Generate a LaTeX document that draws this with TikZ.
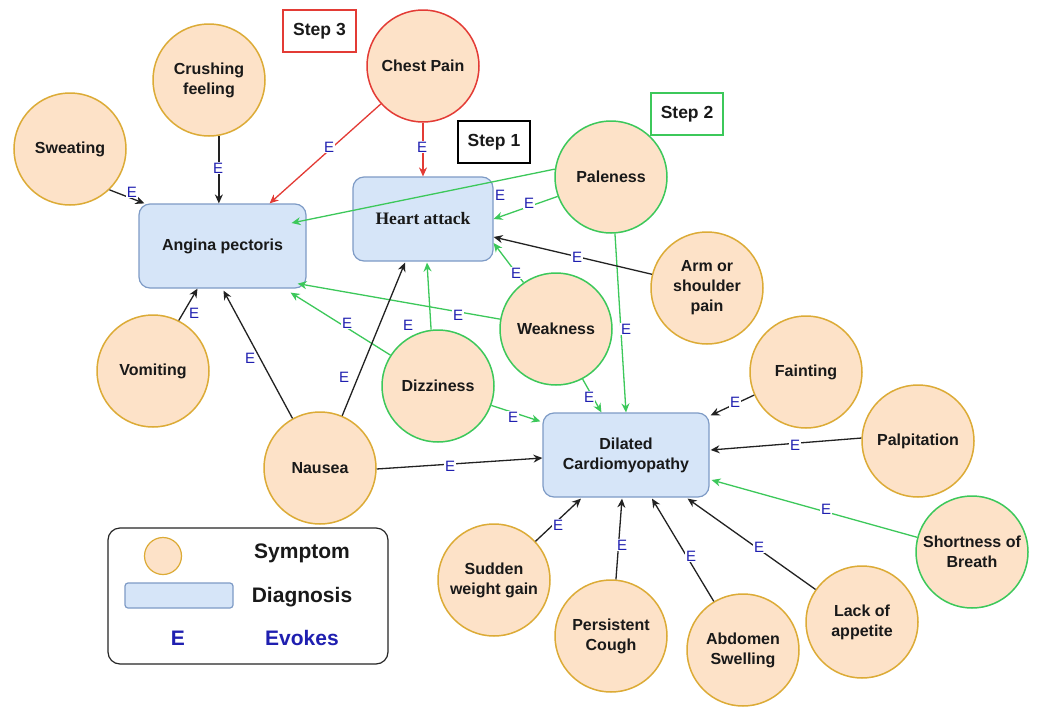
\documentclass[tikz,border=0pt]{standalone}
\usepackage{fontspec}
\setmainfont{Liberation Sans}
\newfontfamily\serifface{Liberation Serif}
\usetikzlibrary{arrows.meta,calc}

\definecolor{symfill}{HTML}{FDE2C8}
\definecolor{symdraw}{HTML}{DCAB36}
\definecolor{dxfill}{HTML}{D6E5F8}
\definecolor{dxdraw}{HTML}{7E9BC6}
\definecolor{evgreen}{HTML}{3CC85A}
\definecolor{evred}{HTML}{E33B35}
\definecolor{evblue}{HTML}{1F1FB0}
\definecolor{edgeblack}{HTML}{222222}

\tikzset{
  symptom/.style={circle, draw=symdraw, fill=symfill, line width=1.5pt,
    minimum size=112pt, inner sep=0pt, align=center, text=black!90,
    font=\fontsize{16}{20}\selectfont\bfseries},
  symgreen/.style={symptom, draw=evgreen},
  symred/.style={symptom, draw=evred},
  diagnosis/.style={rectangle, rounded corners=11pt, draw=dxdraw, fill=dxfill,
    line width=1.2pt, align=center, inner sep=0pt, minimum height=84pt,
    text=black!90, font=\fontsize{16}{20}\selectfont\bfseries},
  stepbox/.style={rectangle, line width=1.2pt, inner sep=0pt,
    minimum height=42pt, text=black!90, font=\fontsize{17.5}{20}\selectfont\bfseries},
  ev/.style={-{Stealth[length=9pt,width=8pt]}, line width=1.3pt, draw=edgeblack},
  evg/.style={ev, draw=evgreen},
  evr/.style={ev, draw=evred},
  elabel/.style={fill=white, inner sep=0.6pt, text=evblue,
    font=\fontsize{15}{15}\selectfont},
  legendtext/.style={font=\fontsize{21}{24}\selectfont\bfseries, text=black!90},
}

\begin{document}
\begin{tikzpicture}[x=1pt, y=-1pt]
\fill[white] (0,0) rectangle (1041,707);
\useasboundingbox (0,0) rectangle (1041,707);

% diagnoses
\node[diagnosis, minimum width=167pt] (angina) at (222.5,246) {Angina pectoris};
\node[diagnosis, minimum width=140pt, font=\serifface\fontsize{17.5}{20}\selectfont\bfseries] (heart) at (423,219) {Heart attack};
\node[diagnosis, minimum width=166pt] (dil) at (626,455) {Dilated\\Cardiomyopathy};

% symptoms
\node[symptom] (sweat) at (70,149) {Sweating};
\node[symptom] (crush) at (209,80) {Crushing\\feeling};
\node[symred] (chest) at (423,66) {Chest Pain};
\node[symgreen] (pale) at (611,177) {Paleness};
\node[symptom] (arm) at (707,288) {Arm or\\shoulder\\pain};
\node[symgreen] (weak) at (556,329) {Weakness};
\node[symgreen] (dizz) at (438,386) {Dizziness};
\node[symptom] (vomit) at (153,371) {Vomiting};
\node[symptom] (naus) at (320,468) {Nausea};
\node[symptom] (faint) at (806,372) {Fainting};
\node[symptom] (palp) at (918,441) {Palpitation};
\node[symgreen] (short) at (972,552) {Shortness of\\Breath};
\node[symptom] (lack) at (862,622) {Lack of\\appetite};
\node[symptom] (sudden) at (494,580) {Sudden\\weight gain};
\node[symptom] (pers) at (611,636) {Persistent\\Cough};
\node[symptom] (abd) at (743,650) {Abdomen\\Swelling};

% step markers
\node[stepbox, draw=evred, minimum width=73pt] (step3) at (319.5,31) {Step 3};
\node[stepbox, draw=black, minimum width=72pt] (step1) at (494,142) {Step 1};
\node[stepbox, draw=evgreen, minimum width=72pt] (step2) at (687,114) {Step 2};

% evokes relations
\draw[ev] (sweat.-46) -- ($(angina.north west)+(6,0)$);
\draw[ev] (crush.-80) -- (crush.-80 |- angina.north);
\draw[evr] (chest.-138) -- ($(angina.north east)+(-37,0)$);
\draw[evr] (chest.south) -- (heart.north);
\draw[evg] (pale.172) -- ($(angina.east)+(-15,-23)$);
\draw[evg] (pale.-160) -- (heart.east);
\draw[evg] (pale.-86) -- (dil.north);
\draw[ev] (arm.166) -- ($(heart.east)+(0,18)$);
\draw[evg] (weak.125) -- ($(heart.east)+(0,24)$);
\draw[evg] (weak.170) -- ($(angina.south east)+(-9,-5)$);
\draw[evg] (dizz.147) -- ($(angina.south east)+(-16,4)$);
\draw[evg] (dizz.97) -- ($(heart.south)+(4,1)$);
\draw[ev] (naus.119) -- ($(angina.south)+(1,2)$);
\draw[ev] (naus.67) -- ($(heart.south)+(-18,1)$);
\draw[ev] (naus.-1) -- ($(dil.west)+(0,3)$);
\draw[evg] (dizz.-20) -- ($(dil.north west)+(-2,9)$);
\draw[evg] (weak.-62) -- ($(dil.north west)+(59,0)$);
\draw[ev] (faint.-156) -- ($(dil.north east)+(1,3)$);
\draw[ev] (palp.177) -- ($(dil.east)+(1,-5)$);
\draw[evg] (short.165) -- ($(dil.east)+(2,25)$);
\draw[ev] (lack.145) -- ($(dil.south east)+(-22,1)$);
\draw[ev] (abd.121) -- ($(dil.south)+(26,1)$);
\draw[ev] (pers.85) -- ($(dil.south)+(-4,1)$);
\draw[ev] (sudden.43) -- ($(dil.south)+(-45,1)$);
\draw[ev] (vomit.63) -- ($(angina.south)+(-25,0)$);

% relation labels
\node[elabel] (e1) at (132,192) {E};
\node[elabel] (e2) at (218,168) {E};
\node[elabel] (e3) at (329,147) {E};
\node[elabel] (e4) at (422,147) {E};
\node[elabel] (e5) at (500,195) {E};
\node[elabel] (e6) at (529,203) {E};
\node[elabel] (e7) at (626,329) {E};
\node[elabel] (e8) at (577,257) {E};
\node[elabel] (e9) at (516,273) {E};
\node[elabel] (e10) at (458,315) {E};
\node[elabel] (e11) at (347,323) {E};
\node[elabel] (e12) at (408,325) {E};
\node[elabel] (e13) at (250,358) {E};
\node[elabel] (e14) at (344,377) {E};
\node[elabel] (e15) at (450,466) {E};
\node[elabel] (e16) at (513,417) {E};
\node[elabel] (e17) at (589,397) {E};
\node[elabel] (e18) at (735,402) {E};
\node[elabel] (e19) at (795,445) {E};
\node[elabel] (e20) at (826,509) {E};
\node[elabel] (e21) at (759,547) {E};
\node[elabel] (e22) at (691,556) {E};
\node[elabel] (e23) at (622,545) {E};
\node[elabel] (e24) at (558,525) {E};
\node[elabel] (e25) at (194,313) {E};

% legend
\node[draw=black!85, rounded corners=12pt, line width=1.2pt, fill=white,
  minimum width=280pt, minimum height=136pt] (legend) at (248,596) {};
\node[circle, draw=symdraw, fill=symfill, line width=1.2pt, minimum size=37pt,
  inner sep=0pt] (lsym) at (163,556) {};
\node[rectangle, rounded corners=3pt, draw=dxdraw, fill=dxfill, line width=1.2pt,
  minimum width=108pt, minimum height=25pt, inner sep=0pt] (ldx) at (179,595.5) {};
\node[legendtext, text=evblue] (lev) at (178,638) {E};
\node[legendtext] (tsym) at (302,553) {Symptom};
\node[legendtext] (tdx) at (302,597) {Diagnosis};
\node[legendtext, text=evblue] (tev) at (302,638) {Evokes};
\end{tikzpicture}
\end{document}
